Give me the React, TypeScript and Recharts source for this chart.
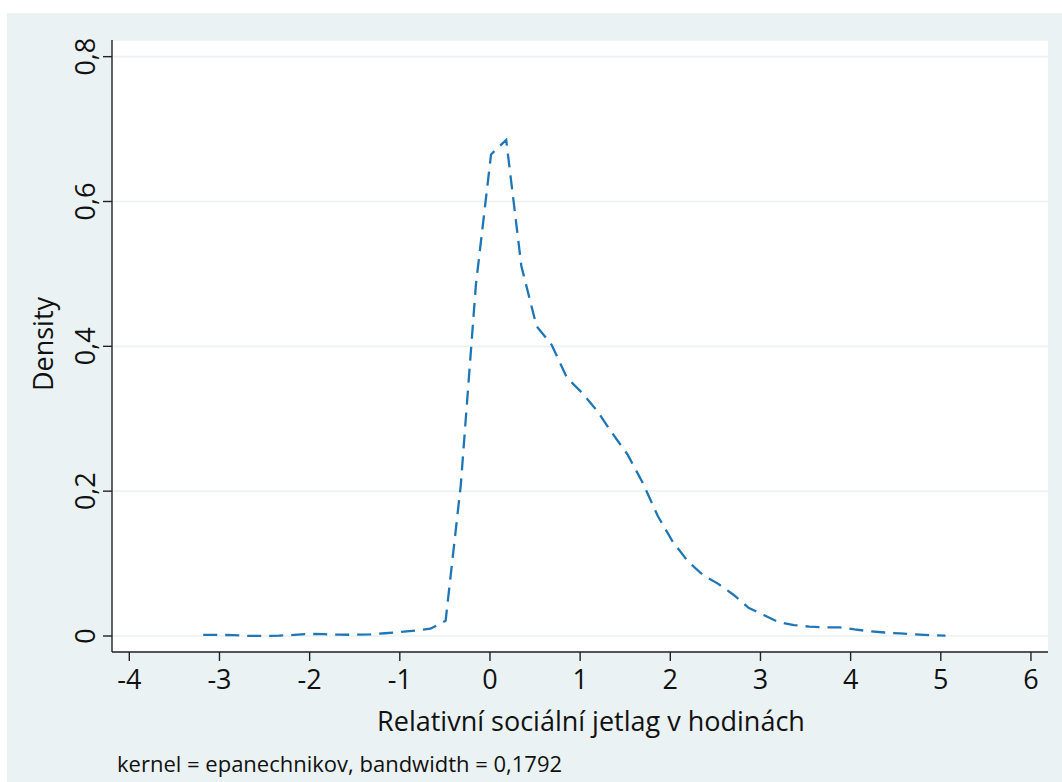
import React from "react";
import { LineChart, Line, XAxis, YAxis, CartesianGrid } from "recharts";

const xValues = [
  -3.18, -3.012, -2.844, -2.676, -2.508, -2.34, -2.172, -2.004, -1.836, -1.668,
  -1.5, -1.332, -1.164, -0.996, -0.828, -0.66, -0.492, -0.324, -0.156, 0.012,
  0.18, 0.348, 0.516, 0.684, 0.852, 1.02, 1.188, 1.356, 1.524, 1.692,
  1.86, 2.028, 2.196, 2.364, 2.532, 2.7, 2.868, 3.036, 3.204, 3.372,
  3.54, 3.708, 3.876, 4.044, 4.212, 4.38, 4.548, 4.716, 4.884, 5.052,
];
const densityValues = [
  0.0015, 0.0015, 0.0012, 0.0002, 0.0, 0.0005, 0.0015, 0.0028, 0.0025, 0.0018,
  0.0017, 0.0022, 0.0038, 0.0055, 0.0075, 0.01, 0.021, 0.208, 0.485, 0.665,
  0.685, 0.511, 0.428, 0.402, 0.357, 0.336, 0.311, 0.28, 0.251, 0.212,
  0.166, 0.13, 0.103, 0.084, 0.072, 0.057, 0.039, 0.029, 0.019, 0.015,
  0.013, 0.012, 0.012, 0.009, 0.0065, 0.0048, 0.0035, 0.0022, 0.0012, 0.0005,
];
const xTicks = [-4, -3, -2, -1, 0, 1, 2, 3, 4, 5, 6];
const yTicks = [0, 0.2, 0.4, 0.6, 0.8];
const xTitle = "Relativní sociální jetlag v hodinách";
const yTitle = "Density";
const note = "kernel = epanechnikov, bandwidth = 0,1792";

const data = xValues.map((x, i) => ({ x, density: densityValues[i] }));

const FONT = "'Open Sans', 'Noto Sans', sans-serif";
const BG = "#eaf2f3";
const TEXT = "#111";

const fmt = (v: number) => (v === 0 ? "0" : String(v).replace(".", ","));

const XTick = (props: any) => {
  const { x, y, payload } = props;
  return (
    <text x={x} y={y + 28} textAnchor="middle" fontSize={27} fontFamily={FONT} fill={TEXT}>
      {fmt(payload.value)}
    </text>
  );
};

const YTick = (props: any) => {
  const { x, y, payload } = props;
  const bx = x - 8;
  return (
    <text
      x={bx}
      y={y}
      transform={`rotate(-90, ${bx}, ${y})`}
      textAnchor="middle"
      fontSize={27}
      fontFamily={FONT}
      fill={TEXT}
    >
      {fmt(payload.value)}
    </text>
  );
};

const XLabel = (props: any) => {
  const vb = props.viewBox || {};
  return (
    <g>
      <text
        x={vb.x + vb.width / 2 + 11}
        y={vb.y + 79}
        textAnchor="middle"
        fontSize={27}
        fontFamily={FONT}
        fill={TEXT}
      >
        {xTitle}
      </text>
      <text x={vb.x + 5} y={vb.y + 120} textAnchor="start" fontSize={22} fontFamily={FONT} fill={TEXT}>
        {note}
      </text>
    </g>
  );
};

const YLabel = (props: any) => {
  const vb = props.viewBox || {};
  const cx = 46;
  const cy = vb.y + vb.height / 2 - 2;
  return (
    <text
      x={cx}
      y={cy}
      transform={`rotate(-90, ${cx}, ${cy})`}
      textAnchor="middle"
      fontSize={27}
      fontFamily={FONT}
      fill={TEXT}
    >
      {yTitle}
    </text>
  );
};

export default function App() {
  return (
    <div style={{ position: "absolute", left: 7, top: 13, width: 1055, height: 769, background: BG }}>
      <LineChart width={1055} height={769} data={data} margin={{ top: 27, right: 14, left: 0, bottom: 0 }}>
        <CartesianGrid vertical={false} stroke={BG} strokeWidth={1.6} fill="#ffffff" />
        <XAxis
          dataKey="x"
          type="number"
          domain={[-4.192, 6.189]}
          ticks={xTicks}
          allowDataOverflow
          height={130}
          tickSize={9}
          tickMargin={0}
          tick={<XTick />}
          axisLine={{ stroke: "#222", strokeWidth: 1.4 }}
          tickLine={{ stroke: "#222", strokeWidth: 1.4 }}
          label={<XLabel />}
        />
        <YAxis
          type="number"
          domain={[-0.0221, 0.823]}
          ticks={yTicks}
          allowDataOverflow
          width={105}
          tickSize={9}
          tickMargin={0}
          tick={<YTick />}
          axisLine={{ stroke: "#222", strokeWidth: 1.4 }}
          tickLine={{ stroke: "#222", strokeWidth: 1.4 }}
          label={<YLabel />}
        />
        <Line
          type="linear"
          dataKey="density"
          stroke="#1f76b6"
          strokeWidth={2.3}
          strokeDasharray="14 8"
          dot={false}
          activeDot={false}
          isAnimationActive={false}
        />
      </LineChart>
    </div>
  );
}
